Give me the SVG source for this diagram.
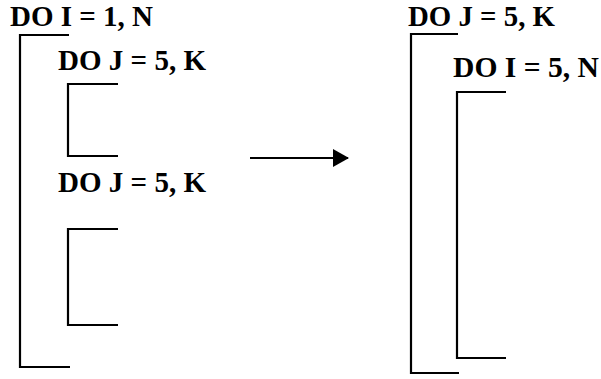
<svg xmlns="http://www.w3.org/2000/svg" width="601" height="379" viewBox="0 0 601 379">
<style>
text{font-family:"Liberation Serif","Times New Roman",serif;font-weight:bold;font-size:29px;fill:#000}
.br{fill:none;stroke:#000;stroke-width:2.2}
.ar{stroke:#000;stroke-width:2.2}
</style>
<defs>
<marker id="ah" markerWidth="16" markerHeight="18" refX="15" refY="9" orient="auto" markerUnits="userSpaceOnUse">
<path d="M0,0 L16,9 L0,18 Z" fill="#000"/>
</marker>
</defs>
<rect width="601" height="379" fill="#fff"/>
<g id="left-outer">
<text x="10" y="26" textLength="143" lengthAdjust="spacingAndGlyphs">DO I = 1, N</text>
<path class="br" d="M69,35 H20 V367 H70"/>
</g>
<g id="left-inner1">
<text x="58" y="70" textLength="148" lengthAdjust="spacingAndGlyphs">DO J = 5, K</text>
<path class="br" d="M118,84 H68 V156 H118"/>
</g>
<g id="left-inner2">
<text x="58" y="192" textLength="148" lengthAdjust="spacingAndGlyphs">DO J = 5, K</text>
<path class="br" d="M118,229 H68 V325 H118"/>
</g>
<g id="right-outer">
<text x="408" y="26" textLength="147" lengthAdjust="spacingAndGlyphs">DO J = 5, K</text>
<path class="br" d="M458,34 H411 V373 H459"/>
</g>
<g id="right-inner">
<text x="453" y="77" textLength="146" lengthAdjust="spacingAndGlyphs">DO I = 5, N</text>
<path class="br" d="M506,92 H457 V358 H506"/>
</g>
<g id="connectors">
<line class="ar" x1="250" y1="158" x2="348" y2="158" marker-end="url(#ah)"/>
</g>
</svg>
